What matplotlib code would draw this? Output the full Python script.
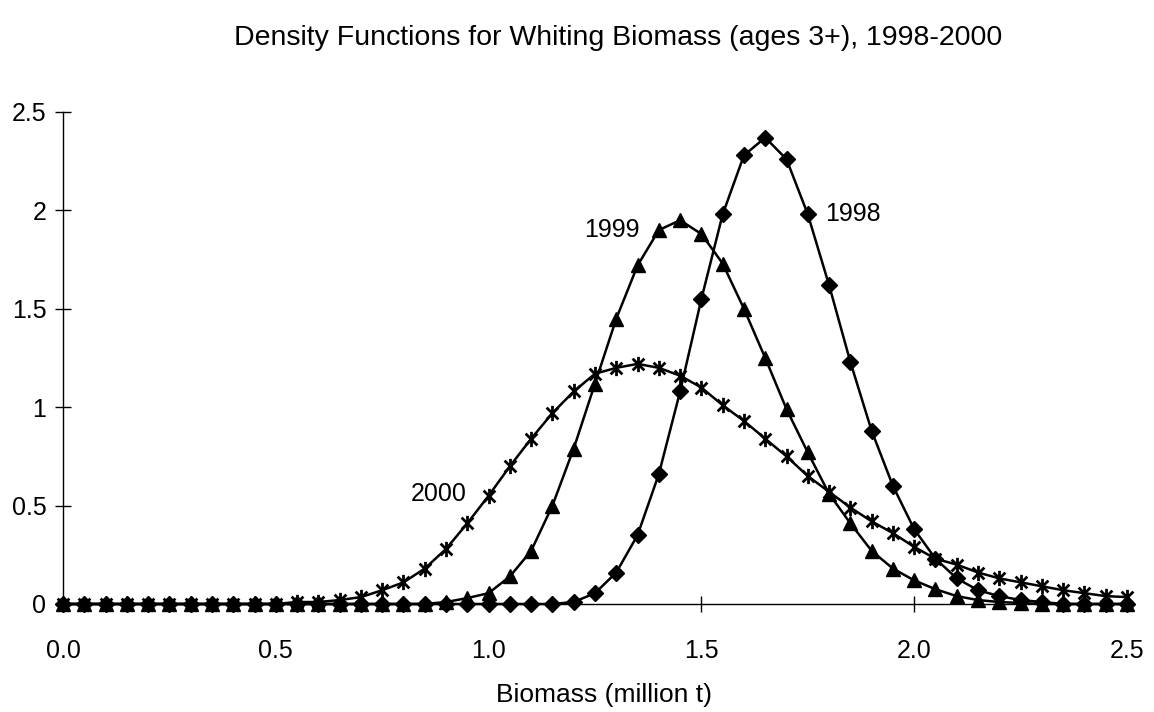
import numpy as np
import matplotlib
matplotlib.use("Agg")
import matplotlib.pyplot as plt
from matplotlib.path import Path

plt.rcParams['font.family'] = ['Liberation Sans', 'DejaVu Sans']

# ===== data (density vs biomass, million t) =====
biomass = [round(0.05 * i, 2) for i in range(51)]

dens_1998 = [0, 0, 0, 0, 0, 0, 0, 0, 0, 0,
             0, 0, 0, 0, 0, 0, 0, 0, 0, 0,
             0, 0, 0, 0, 0.01, 0.055, 0.16, 0.35, 0.66, 1.08,
             1.55, 1.98, 2.28, 2.37, 2.26, 1.98, 1.62, 1.23, 0.88, 0.60,
             0.38, 0.23, 0.13, 0.07, 0.04, 0.02, 0.01, 0, 0, 0, 0]

dens_1999 = [0, 0, 0, 0, 0, 0, 0, 0, 0, 0,
             0, 0, 0, 0, 0, 0, 0, 0, 0.01, 0.03,
             0.055, 0.14, 0.27, 0.50, 0.79, 1.12, 1.45, 1.72, 1.90, 1.95,
             1.88, 1.73, 1.50, 1.25, 0.99, 0.77, 0.56, 0.41, 0.27, 0.18,
             0.12, 0.075, 0.04, 0.02, 0.01, 0.005, 0, 0, 0, 0, 0]

dens_2000 = [0, 0, 0, 0, 0, 0, 0, 0, 0, 0,
             0, 0.01, 0.01, 0.02, 0.035, 0.07, 0.11, 0.18, 0.28, 0.41,
             0.55, 0.70, 0.84, 0.97, 1.08, 1.17, 1.20, 1.22, 1.20, 1.16,
             1.10, 1.01, 0.93, 0.84, 0.75, 0.65, 0.57, 0.49, 0.42, 0.36,
             0.29, 0.23, 0.20, 0.16, 0.13, 0.11, 0.09, 0.07, 0.055, 0.04, 0.035]

x_ticks = [0.0, 0.5, 1.0, 1.5, 2.0, 2.5]
y_ticks = [0, 0.5, 1, 1.5, 2, 2.5]

# Excel-style star marker: X with a vertical bar
star = Path([(-1, -1), (1, 1), (-1, 1), (1, -1), (0, -1.3), (0, 1.3)],
            [Path.MOVETO, Path.LINETO, Path.MOVETO, Path.LINETO, Path.MOVETO, Path.LINETO])

fig = plt.figure(figsize=(11.54, 7.12), dpi=100)
ax = fig.add_axes([0.0546, 0.1517, 0.9220, 0.6910])

ax.plot(biomass, dens_2000, color="black", lw=1.8, marker=star, ms=11, mew=2.0,
        clip_on=False, zorder=3)
ax.plot(biomass, dens_1999, color="black", lw=1.8, marker="^", ms=10.5,
        clip_on=False, zorder=4)
ax.plot(biomass, dens_1998, color="black", lw=1.8, marker="D", ms=8.5,
        clip_on=False, zorder=5)

ax.text(1.79, 1.98, "1998", fontsize=18, ha="left", va="center")
ax.text(1.354, 1.90, "1999", fontsize=18, ha="right", va="center")
ax.text(0.948, 0.56, "2000", fontsize=18, ha="right", va="center")

ax.set_xlim(0, 2.5)
ax.set_ylim(0, 2.5)
ax.set_xticks(x_ticks)
ax.set_xticklabels([f"{v:.1f}" for v in x_ticks])
ax.set_yticks(y_ticks)
ax.set_yticklabels(["0", "0.5", "1", "1.5", "2", "2.5"])

for s in ["top", "right"]:
    ax.spines[s].set_visible(False)
ax.spines["left"].set_linewidth(1.0)
ax.spines["bottom"].set_linewidth(1.0)
ax.tick_params(axis="both", direction="inout", length=12, width=1.0, labelsize=18)
ax.tick_params(axis="x", pad=19)
ax.tick_params(axis="y", pad=6)

ax.set_xlabel("Biomass (million t)", fontsize=19)
ax.xaxis.set_label_coords(0.508, -0.185)
ax.xaxis.label.set_va("center")
fig.text(0.536, 0.947, "Density Functions for Whiting Biomass (ages 3+), 1998-2000",
         fontsize=20.5, ha="center", va="center")

fig.savefig("out.png", dpi=100)
plt.close(fig)
